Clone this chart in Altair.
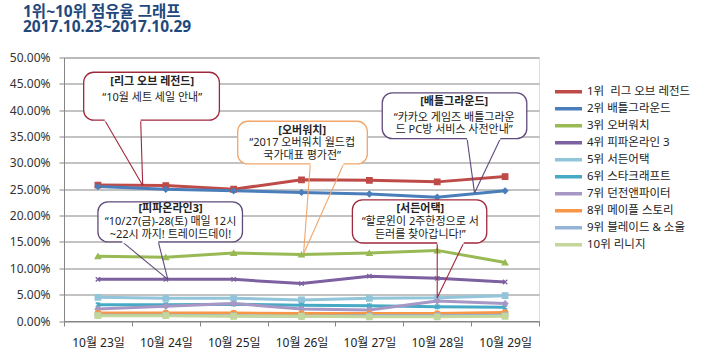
import altair as alt
import pandas as pd

# ---------------- data ----------------
days = [23, 24, 25, 26, 27, 28, 29]
series_names = ["1위\u00a0\u00a0리그 오브 레전드", "2위 배틀그라운드", "3위 오버워치", "4위 피파온라인 3",
                "5위 서든어택", "6위 스타크래프트", "7위 던전앤파이터", "8위 메이플 스토리",
                "9위 블레이드 & 소울", "10위 리니지"]
s1 = [25.8, 25.7, 25.0, 26.8, 26.7, 26.4, 27.4]
s2 = [25.5, 25.0, 24.7, 24.4, 24.1, 23.5, 24.7]
s3 = [12.3, 12.1, 12.9, 12.6, 12.9, 13.4, 11.1]
s4 = [7.9, 7.9, 7.9, 7.1, 8.5, 8.1, 7.4]
s5 = [4.5, 4.3, 4.3, 4.0, 4.3, 4.4, 4.8]
s6 = [3.1, 3.1, 3.2, 3.0, 2.9, 2.7, 2.6]
s7 = [2.3, 2.8, 3.3, 2.3, 2.1, 3.8, 3.3]
s8 = [1.5, 1.5, 1.5, 1.4, 1.4, 1.4, 1.6]
s9 = [1.1, 1.1, 1.0, 0.9, 1.0, 1.0, 1.1]
s10 = [1.0, 1.0, 0.9, 0.9, 0.8, 0.8, 0.9]
all_series = [s1, s2, s3, s4, s5, s6, s7, s8, s9, s10]

series_colors = ["#BE4B48", "#4A7EBB", "#98B954", "#7D60A0", "#92C5DA",
                 "#46AAC5", "#A797C5", "#F79646", "#95B3D7", "#C3D69B"]
X_PATH = "M-0.8,-0.8L0.8,0.8M-0.8,0.8L0.8,-0.8"
STAR_PATH = "M-0.8,-0.8L0.8,0.8M-0.8,0.8L0.8,-0.8M0,-1L0,1"
series_shapes = ["square", "diamond", "triangle-up", X_PATH, "square",
                 STAR_PATH, "diamond", "circle", "cross", "square"]

y_ticks = [0.0, 5.0, 10.0, 15.0, 20.0, 25.0, 30.0, 35.0, 40.0, 45.0, 50.0]
x_bounds = [22.5, 23.5, 24.5, 25.5, 26.5, 27.5, 28.5, 29.5]

# callouts (positions in data units: day, percent)
co_ids = ["lol", "ow", "pubg", "fifa", "sa"]
co_x1 = [22.79, 25.06, 27.19, 23.00, 26.75]
co_x2 = [24.79, 26.97, 29.32, 25.13, 28.73]
co_top = [47.2, 37.9, 43.3, 22.6, 23.0]
co_bot = [38.1, 29.8, 34.6, 15.0, 14.8]
co_colors = ["#A0283C", "#F2A66A", "#604A7B", "#604A7B", "#A0283C"]
co_base1 = [23.10, 26.13, 28.44, 23.36, 28.00]
co_base2 = [23.63, 26.62, 28.93, 23.89, 28.39]
co_apex_x = [23.66, 26.03, 28.55, 24.03, 28.00]
co_apex_y = [25.7, 12.7, 24.3, 7.9, 4.4]
co_cx = [23.80, 26.01, 28.25, 24.07, 27.75]
co_title = ["[리그 오브 레전드]", "[오버워치]", "[배틀그라운드]", "[피파온라인3]", "[서든어택]"]
co_title_y = [45.3, 36.1, 41.6, 21.2, 21.2]
co_body = [["\u201c10월 세트 세일 안내\u201d"],
           ["\u201c2017 오버워치 월드컵", "국가대표 평가전\u201d"],
           ["\u201c카카오 게임즈 배틀그라운", "드 PC방 서비스 사전안내\u201d"],
           ["\u201c10/27(금)-28(토) 매일 12시", "~22시 까지! 트레이드데이!"],
           ["\u201c할로윈이 2주한정으로 서", "든러를 찾아갑니다!\u201d"]]
co_body_y = [[42.3], [33.7, 31.4], [38.5, 36.2], [18.8, 16.4], [18.8, 16.4]]

# ---------------- tables ----------------
rows = []
for name, vals in zip(series_names, all_series):
    for d, v in zip(days, vals):
        rows.append({"series": name, "day": d, "value": v})
df = pd.DataFrame(rows)

box_df = pd.DataFrame({"id": co_ids, "x1": co_x1, "x2": co_x2, "top": co_top,
                       "bot": co_bot, "col": co_colors, "b1": co_base1, "b2": co_base2})
tail_rows = []
for i in range(len(co_ids)):
    for b in (co_base1[i], co_base2[i]):
        tail_rows.append({"x": b, "y": co_bot[i], "x2": co_apex_x[i], "y2": co_apex_y[i],
                          "col": co_colors[i]})
tail_df = pd.DataFrame(tail_rows)
title_df = pd.DataFrame({"x": co_cx, "y": co_title_y, "t": co_title})
body_rows = []
for i in range(len(co_ids)):
    for t, yy in zip(co_body[i], co_body_y[i]):
        body_rows.append({"x": co_cx[i], "y": yy, "t": t})
body_df = pd.DataFrame(body_rows)

FONT = "Noto Sans, Noto Sans CJK KR"
GRID = "#868686"

xscale = alt.Scale(domain=[22.5, 29.5], nice=False, zero=False)
yscale = alt.Scale(domain=[0, 50], nice=False, zero=True)

x_axis = alt.Axis(values=x_bounds, title=None, grid=False, tickSize=5,
                  labelExpr="datum.value < 29 ? '10월 ' + (datum.value + 0.5) + '일' : ''",
                  labelOffset=34, labelPadding=11, labelFontSize=12, labelColor="#222222",
                  labelFont=FONT, domainColor=GRID, tickColor=GRID,
                  labelOverlap=False, labelFlush=False, labelBound=False)
y_axis = alt.Axis(values=y_ticks, tickCount=11, title=None, grid=True, gridColor=GRID,
                  tickSize=5, labelExpr="format(datum.value, '.2f') + '%'", labelPadding=9,
                  labelFontSize=12, labelColor="#333333", labelFont=FONT,
                  domainColor=GRID, tickColor=GRID, labelOverlap=False,
                  labelFlush=False, labelBound=False)


def X(field):
    return alt.X(field, scale=xscale, axis=x_axis)


def Y(field):
    return alt.Y(field, scale=yscale, axis=y_axis)


color_scale = alt.Scale(domain=series_names, range=series_colors)

lines = alt.Chart(df).mark_line(strokeWidth=3).encode(
    x=X("day:Q"),
    y=Y("value:Q"),
    color=alt.Color("series:N", scale=color_scale, sort=series_names,
                    legend=alt.Legend(title=None, orient="none", legendX=489, legendY=26,
                                      symbolType="stroke", symbolStrokeWidth=3.5,
                                      symbolSize=729, clipHeight=16.7, rowPadding=0,
                                      labelFontSize=11.5, labelFont=FONT,
                                      labelColor="#222222", labelOffset=3, padding=0,
                                      labelLimit=200)),
    detail="series:N",
)

points = alt.Chart(df).mark_point(size=30, strokeWidth=1.3, opacity=1).encode(
    x=X("day:Q"),
    y=Y("value:Q"),
    fill=alt.Fill("series:N", scale=color_scale, legend=None),
    stroke=alt.Stroke("series:N", scale=color_scale, legend=None),
    shape=alt.Shape("series:N", scale=alt.Scale(domain=series_names, range=series_shapes),
                    legend=None),
)

boxes = alt.Chart(box_df).mark_rect(cornerRadius=10, fill="white", strokeWidth=1.3).encode(
    x=X("x1:Q"), x2="x2:Q",
    y=Y("top:Q"), y2="bot:Q",
    stroke=alt.Stroke("col:N", scale=None),
)

gaps = alt.Chart(box_df).mark_rule(color="white", strokeWidth=2.5).encode(
    x=X("b1:Q"), x2="b2:Q",
    y=Y("bot:Q"), y2="bot:Q",
)

tails = alt.Chart(tail_df).mark_rule(strokeWidth=1.1).encode(
    x=X("x:Q"), x2="x2:Q",
    y=Y("y:Q"), y2="y2:Q",
    color=alt.Color("col:N", scale=None),
)

titles = alt.Chart(title_df).mark_text(font=FONT, fontSize=11, fontWeight="bold",
                                        color="#222222", baseline="middle").encode(
    x=X("x:Q"), y=Y("y:Q"), text="t:N")

bodies = alt.Chart(body_df).mark_text(font=FONT, fontSize=11, color="#222222",
                                       baseline="middle").encode(
    x=X("x:Q"), y=Y("y:Q"), text="t:N")

chart = alt.layer(lines, points, tails, boxes, gaps, titles, bodies).resolve_scale(
    color="independent"
).properties(
    width=475, height=263.5,
    padding={"left": 64, "top": 57.5, "right": 167, "bottom": 32},
    autosize=alt.AutoSizeParams(type="none"),
    title=alt.TitleParams(text=["1위~10위 점유율 그래프", "2017.10.23~2017.10.29"],
                          anchor="start", frame="group", dx=-41, fontSize=15.5,
                          fontWeight="bold", color="#1F497D", font=FONT,
                          lineHeight=15.5, offset=16),
).configure_view(stroke=None).configure(background="white")

chart.save("out.html", embed_options={"renderer": "svg", "actions": False})
